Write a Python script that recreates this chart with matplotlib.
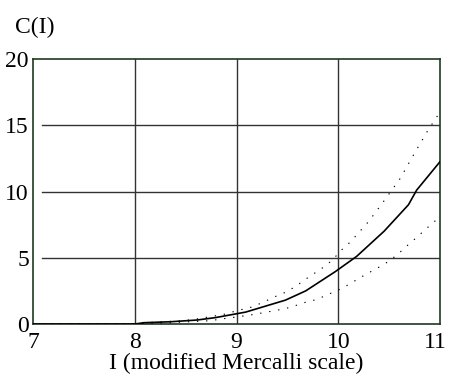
import matplotlib.pyplot as plt
import matplotlib.transforms as mtransforms

# mean curve
I_mid = [7.0, 8.0, 8.09, 8.35, 8.61, 8.79, 9.09, 9.48, 9.68, 9.97, 10.18, 10.45, 10.69, 10.77, 11.0]
C_mid = [0.0, 0.0, 0.1, 0.17, 0.3, 0.48, 0.9, 1.8, 2.5, 3.95, 5.1, 7.0, 9.0, 10.1, 12.25]

# upper bound
I_up = [7.0, 8.0, 8.1, 8.35, 8.48, 8.61, 8.74, 8.89, 9.0, 9.14, 9.25, 9.38, 9.5, 9.61, 9.72,
        9.83, 9.94, 10.02, 10.12, 10.3, 10.46, 10.61, 10.75, 10.88, 11.0]
C_up = [0.0, 0.0, 0.1, 0.2, 0.25, 0.38, 0.55, 0.75, 1.0, 1.26, 1.6, 2.07, 2.45, 3.0, 3.6,
        4.15, 4.8, 5.5, 6.2, 7.75, 9.4, 11.0, 12.9, 14.6, 16.0]

# lower bound
I_lo = [7.0, 8.0, 8.35, 8.48, 8.61, 8.74, 8.89, 9.02, 9.15, 9.27, 9.41, 9.53, 9.66, 9.79,
        9.92, 10.04, 10.15, 10.26, 10.38, 10.49, 10.59, 10.69, 10.78, 10.88, 11.0]
C_lo = [0.0, 0.0, 0.1, 0.15, 0.2, 0.25, 0.42, 0.55, 0.7, 0.86, 1.06, 1.26, 1.6, 1.86,
        2.3, 2.7, 3.2, 3.7, 4.2, 4.7, 5.3, 6.0, 6.6, 7.3, 8.1]

x_ticks = [7, 8, 9, 10, 11]
y_ticks = [0, 5, 10, 15, 20]

plt.rcParams['font.family'] = ['Liberation Serif', 'DejaVu Serif']

fig = plt.figure(figsize=(4.49, 3.83), dpi=100)
ax = fig.add_axes([0.0735, 0.154, 0.9065, 0.692])

for x in x_ticks[1:-1]:
    ax.axvline(x, color='#333333', lw=1, zorder=1)
for y in y_ticks[1:-1]:
    ax.axhline(y, xmin=0.022, color='#333333', lw=1, zorder=1)

ax.plot(I_mid, C_mid, color='black', lw=1.2, zorder=3)
ax.plot(I_up, C_up, color='black', lw=0.8, dashes=(1.2, 7), zorder=3)
ax.plot(I_lo, C_lo, color='black', lw=0.8, dashes=(1.2, 7), zorder=3)

ax.set_xlim(7, 11)
ax.set_ylim(0, 20)
ax.set_xticks(x_ticks)
ax.set_yticks(y_ticks)
ax.tick_params(length=0, labelsize=17, pad=3)
ax.tick_params(axis='x', pad=6)
for s in ax.spines.values():
    s.set_color('#1f3a1f')
    s.set_linewidth(1.2)

# last x label sits a bit inside the figure edge
last = ax.get_xticklabels()[-1]
last.set_transform(last.get_transform() + mtransforms.ScaledTranslation(-0.05, 0, fig.dpi_scale_trans))

ax.set_xlabel('I (modified Mercalli scale)', fontsize=17, labelpad=0)
fig.text(0.033, 0.915, 'C(I)', fontsize=17)

fig.savefig('out.png', dpi=100)
